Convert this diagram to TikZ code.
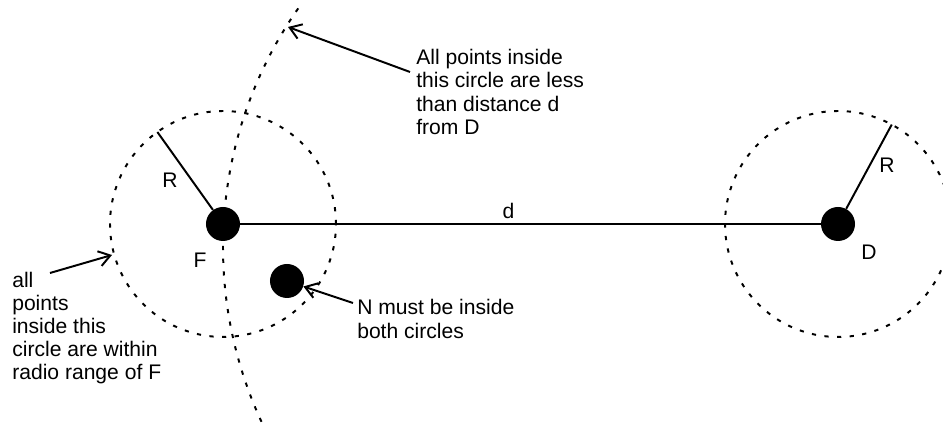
\documentclass[tikz,border=0pt]{standalone}
\usepackage{fontspec}
\setmainfont{Liberation Sans}
\usetikzlibrary{arrows.meta,positioning,calc}

\begin{document}
\begin{tikzpicture}[x=0.025cm, y=0.025cm,
    station/.style={circle, fill=black, minimum size=0.85cm, inner sep=0pt},
    dotline/.style={line width=1.4pt, dash pattern=on 3pt off 6pt},
    arr/.style={line width=1.4pt, -{Straight Barb[length=2.8mm, width=3.8mm]}},
    note/.style={align=left, inner sep=0pt, font=\fontsize{15}{16.4}\selectfont}]
  \path[use as bounding box, clip] (0,0) rectangle (943,431);
  \node[station] (F) at (223,207) {};
  \node[station] (D) at (838,207) {};
  \node[station] (N) at (287,150) {};
  \coordinate (arcC) at (639,184);
  % radio range of F and of D
  \draw[dotline] (F) circle[radius=113];
  \draw[dotline] (D) circle[radius=113];
  % points closer than d to D
  \draw[dotline] ($(arcC)+(145:416)$) arc[start angle=145, end angle=206, radius=416];
  \draw[line width=1.4pt] (F) -- ($(F)+(125.5:113)$);
  \node[note] (rF) at (170,251) {R};
  \draw[line width=1.4pt] (D) -- ($(D)+(61.6:113)$);
  \node[note] (rD) at (887,266) {R};
  \draw[line width=1.4pt] (F) -- node[note, pos=0.462, above=3pt] (dist) {d} (D);
  \node[note] (fLbl) at (200,171) {F};
  \node[note] (dLbl) at (869,179) {D};
  % texts and their arrows
  \node[note, anchor=west] (arcTxt) at (416,339) {All points inside\\this circle are less\\than distance d\\from D};
  \node[note, anchor=west] (rangeTxt) at (12,103) {all\\points\\inside this\\circle are within\\radio range of F};
  \node[note, anchor=west] (nTxt) at (357,112) {N must be inside\\both circles};
  \coordinate (arcTip) at (288,404);
  \coordinate (arcTail) at (410,359);
  \draw[arr] (arcTail) -- (arcTip);
  \coordinate (rangeTip) at (112,176);
  \coordinate (rangeTail) at (50,158);
  \draw[arr] (rangeTail) -- (rangeTip);
  \coordinate (nTail) at (353,128);
  \draw[arr] (nTail) -- (N);
\end{tikzpicture}
\end{document}
